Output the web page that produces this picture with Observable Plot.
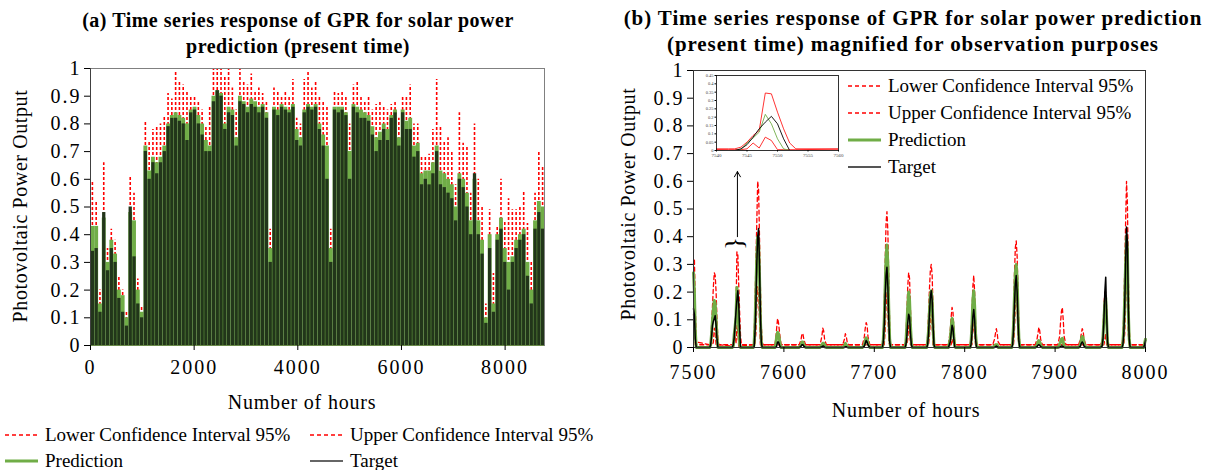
<!DOCTYPE html>
<html><head><meta charset="utf-8">
<script src="https://cdn.jsdelivr.net/npm/d3@7"></script>
<script src="https://cdn.jsdelivr.net/npm/@observablehq/plot@0.6"></script>
<style>
body{margin:0;background:#fff;}
#root{position:relative;width:1214px;height:470px;overflow:hidden;font-family:"Liberation Serif","Times New Roman",serif;color:#000;}
.abs{position:absolute;white-space:nowrap;}
.title{font-weight:bold;text-align:center;line-height:26px;}
.ylab{font-size:20px;letter-spacing:0.6px;transform:translate(-50%,-50%) rotate(-90deg);}
.xlab{font-size:20px;letter-spacing:0.8px;transform:translate(-50%,-50%);}
.leg{font-size:19px;display:flex;align-items:center;height:22px;}
.leg svg{margin-right:6px;}
svg text{font-family:"Liberation Serif","Times New Roman",serif;}
</style></head>
<body><div id="root"></div>
<script>
// ---------- Panel (a): 3-day bins over 8760 hours ----------
const aBinCount = 120;
const aBinHours = d3.range(aBinCount).map(i => i * 73 + 36.5);
const aTarget = [
.34,.35,.12,.48,.27,.35,.30,.17,.12,.07,
.50,.32,.15,.10,.70,.60,.66,.62,.66,.70,
.79,.82,.82,.81,.80,.74,.84,.85,.80,.76,
.70,.70,.88,.92,.90,.78,.84,.83,.72,.88,
.87,.84,.87,.86,.84,.86,.82,.30,.85,.83,
.86,.85,.84,.86,.74,.72,.84,.86,.85,.86,
.78,.72,.60,.30,.85,.84,.85,.83,.60,.86,
.84,.82,.82,.81,.76,.70,.74,.78,.74,.82,
.84,.72,.84,.78,.78,.68,.70,.58,.60,.58,
.62,.70,.58,.57,.55,.53,.45,.60,.57,.50,
.40,.62,.40,.33,.08,.35,.12,.38,.42,.30,
.20,.30,.35,.38,.40,.25,.15,.42,.48,.42];
const aPred = [
.43,.43,.15,.46,.30,.38,.33,.20,.18,.10,
.48,.45,.20,.12,.72,.63,.68,.66,.68,.72,
.80,.83,.84,.83,.82,.80,.85,.86,.83,.80,
.74,.72,.90,.92,.91,.80,.86,.85,.75,.90,
.88,.86,.89,.88,.86,.87,.84,.35,.86,.85,
.87,.86,.85,.87,.78,.75,.85,.87,.86,.87,
.80,.76,.72,.35,.86,.86,.86,.84,.70,.87,
.86,.85,.84,.83,.79,.75,.77,.80,.78,.83,
.85,.75,.85,.81,.82,.72,.73,.62,.63,.63,
.66,.72,.63,.62,.60,.58,.50,.62,.60,.55,
.45,.60,.45,.38,.10,.40,.15,.40,.46,.35,
.30,.32,.38,.40,.42,.30,.20,.45,.52,.50];
const aUpper = [
.59,.52,.20,.66,.35,.42,.38,.25,.20,.12,
.61,.55,.24,.14,.81,.74,.78,.79,.80,.83,
.91,.89,.99,.95,.94,.92,.90,.90,.88,.85,
.79,.86,1.0,1.0,1.0,.97,1.0,.93,.85,1.0,
.95,.94,.98,.92,.93,.91,.88,.42,.93,.92,
.90,.92,.90,.96,.82,.80,.96,.99,.93,.95,
.90,.88,.86,.42,.92,.91,.92,.90,.80,.94,
.95,.90,.88,.90,.85,.87,.88,.86,.85,.87,
.88,.82,.90,.90,.94,.80,.80,.68,.68,.69,
.78,.96,.79,.74,.75,.70,.58,.84,.73,.72,
.55,.80,.60,.50,.15,.49,.26,.43,.60,.45,
.53,.49,.49,.50,.56,.44,.30,.55,.70,.65];
const aLower = [
.28,.28,.02,.31,.15,.23,.18,.05,.03,.00,
.33,.30,.05,.00,.57,.48,.53,.51,.53,.57,
.65,.68,.69,.68,.67,.65,.70,.71,.68,.65,
.59,.57,.75,.77,.76,.65,.71,.70,.60,.75,
.73,.71,.74,.73,.71,.72,.69,.20,.71,.70,
.72,.71,.70,.72,.63,.60,.70,.72,.71,.72,
.65,.61,.57,.20,.71,.71,.71,.69,.55,.72,
.71,.70,.69,.68,.64,.60,.62,.65,.63,.68,
.70,.60,.70,.66,.67,.57,.58,.47,.48,.48,
.51,.57,.48,.47,.45,.43,.35,.47,.45,.40,
.30,.45,.30,.23,.00,.25,.02,.25,.31,.20,
.15,.17,.23,.25,.27,.15,.05,.30,.37,.35];
const aXTicks = [0,2000,4000,6000,8000];
const yTicks = [0,0.1,0.2,0.3,0.4,0.5,0.6,0.7,0.8,0.9,1];

// ---------- Panel (b): hourly values, hours 7500-8000 ----------
const bHours = [
7500,7501,7502,7503,
7518,7519,7520,7521,7522,7523,7524,7525,7526,7527,7528,
7542,7543,7544,7545,7546,7547,7548,7549,7550,7551,7552,7553,
7566,7567,7568,7569,7570,7571,7572,7573,7574,7575,7576,7577,
7590,7591,7592,7593,7594,7595,7596,7597,
7617,7619,7620,7621,7622,7624,
7640,7642,7643,7644,7645,7647,
7665,7667,7668,7669,7670,7672,
7687,7689,7690,7691,7692,7693,7695,
7709,7710,7711,7712,7713,7714,7715,7716,7717,7718,
7734,7735,7736,7737,7738,7739,7740,7741,7742,
7758,7759,7760,7761,7762,7763,7764,7765,7766,7767,
7782,7784,7785,7786,7787,7788,7789,7790,
7806,7807,7808,7809,7810,7811,7812,7813,7814,
7831,7833,7834,7835,7836,7837,7839,
7852,7853,7854,7855,7856,7857,7858,7859,7860,7861,
7878,7880,7881,7882,7883,7884,7886,
7903,7905,7906,7907,7908,7909,7910,7912,
7926,7928,7929,7930,7931,7932,7934,
7950,7952,7953,7954,7955,7956,7957,7958,7959,
7974,7975,7976,7977,7978,7979,7980,7981,7982,7983,
7998,7999,8000];
const bTarget = [
.14,.12,.03,0,
0,.01,.04,.08,.095,.105,.115,.08,.03,0,0,
0,0,.01,.035,.08,.13,.17,.205,.16,.07,0,0,
0,0,.05,.15,.30,.40,.43,.30,.12,.02,0,0,
0,0,.005,.02,.02,.01,0,0,
0,.005,.01,.01,.005,0,
0,.003,.005,.005,0,0,
0,0,.003,.003,0,0,
0,.005,.015,.025,.02,.01,0,
0,.02,.08,.18,.26,.29,.22,.10,.02,0,
0,.01,.04,.09,.12,.11,.05,.01,0,
0,.01,.05,.12,.18,.205,.17,.08,.01,0,
0,.02,.05,.08,.07,.03,0,0,
0,.01,.05,.11,.137,.10,.03,0,0,
0,0,.003,.005,.003,0,0,
0,.01,.06,.15,.23,.26,.20,.09,.02,0,
0,.003,.008,.01,.008,.003,0,
0,0,.003,.005,.005,.003,0,0,
0,.005,.015,.02,.015,.005,0,
0,.005,.03,.10,.20,.254,.12,.02,0,
0,.01,.05,.15,.30,.435,.38,.15,.03,0,
0,.01,.025];
const bPred = [
.27,.20,.06,0,
0,.01,.05,.10,.14,.17,.16,.10,.04,0,0,
0,0,.005,.045,.075,.11,.217,.16,.07,.01,0,0,
0,.01,.08,.20,.33,.40,.38,.26,.10,.02,0,0,
0,.01,.04,.055,.05,.03,.01,0,
0,.01,.02,.02,.01,0,
0,.01,.015,.015,.01,0,
0,.005,.015,.01,.005,0,
0,.01,.025,.035,.03,.015,0,
0,.03,.10,.22,.33,.37,.30,.14,.03,0,
0,.02,.08,.15,.20,.17,.08,.02,0,
0,.02,.06,.13,.19,.205,.17,.07,.01,0,
0,.03,.07,.105,.09,.04,.005,0,
0,.02,.08,.17,.205,.15,.05,.01,0,
0,.005,.01,.01,.01,0,0,
0,.02,.08,.18,.27,.30,.25,.12,.03,0,
0,.01,.02,.025,.02,.01,0,
0,.01,.02,.03,.033,.02,.005,0,
0,.01,.03,.04,.035,.015,0,
0,.01,.04,.10,.16,.18,.10,.02,0,
0,.02,.07,.18,.30,.40,.35,.13,.03,0,
0,.015,.03];
const bUpper = [
.30,.32,.15,.02,
.01,.02,.08,.15,.22,.27,.26,.20,.10,.03,.01,
.01,.01,.02,.05,.09,.12,.345,.34,.23,.13,.045,.01,
.01,.03,.15,.30,.45,.60,.57,.40,.22,.08,.02,.01,
.01,.03,.07,.105,.09,.06,.03,.01,
.01,.03,.05,.05,.03,.01,
.01,.04,.07,.06,.03,.01,
.01,.03,.05,.04,.02,.01,
.01,.04,.07,.09,.08,.04,.01,
.01,.05,.15,.30,.45,.49,.42,.25,.08,.01,
.01,.04,.12,.22,.27,.25,.14,.04,.01,
.01,.04,.12,.21,.28,.30,.26,.14,.03,.01,
.01,.06,.11,.145,.13,.07,.02,.01,
.01,.04,.12,.22,.26,.20,.09,.02,.01,
.01,.03,.05,.068,.05,.02,.01,
.01,.04,.12,.26,.36,.385,.33,.20,.06,.01,
.01,.03,.05,.073,.06,.03,.01,
.01,.04,.09,.13,.145,.10,.04,.01,
.01,.03,.05,.068,.06,.03,.01,
.01,.02,.06,.15,.20,.20,.14,.04,.01,
.01,.04,.12,.28,.45,.60,.52,.26,.07,.01,
.01,.02,.035];
const bLower = [
.12,.08,.01,.01,
.01,.01,.01,.01,.02,.07,.06,.01,.01,.01,.01,
.005,.005,.005,.01,.045,.015,.08,.06,.005,.005,.005,.005,
.01,.01,.01,.05,.15,.22,.20,.10,.01,.01,.01,.01,
.01,.01,.01,.01,.01,.01,.01,.01,
.01,.01,.01,.01,.01,.01,
.01,.01,.01,.01,.01,.01,
.01,.01,.01,.01,.01,.01,
.01,.01,.01,.01,.01,.01,.01,
.01,.01,.01,.06,.15,.20,.13,.02,.01,.01,
.01,.01,.01,.03,.08,.06,.01,.01,.01,
.01,.01,.01,.04,.10,.12,.08,.01,.01,.01,
.01,.01,.01,.03,.02,.01,.01,.01,
.01,.01,.01,.06,.10,.05,.01,.01,.01,
.01,.01,.01,.01,.01,.01,.01,
.01,.01,.01,.06,.15,.20,.15,.04,.01,.01,
.01,.01,.01,.01,.01,.01,.01,
.01,.01,.01,.01,.01,.01,.01,.01,
.01,.01,.01,.01,.01,.01,.01,
.01,.01,.01,.01,.03,.05,.01,.01,.01,
.01,.01,.01,.05,.15,.26,.20,.05,.01,.01,
.01,.01,.01];
const bXTicks = [7500,7600,7700,7800,7900,8000];
const insetXTicks = [7540,7545,7550,7555,7560];
const insetYTicks = [0,0.05,0.1,0.15,0.2,0.25,0.3,0.35,0.4,0.45];
const arrowB = [{x:7548.6, y1:0.40, y2:0.635}];
const braceB = [{x:7548.3, y:0.372}];

const titleA = ["(a) Time series response of GPR for solar power", "prediction (present time)"];
const titleB = ["(b) Time series response of GPR for solar power prediction", "(present time) magnified for observation purposes"];
const yLabel = "Photovoltaic Power Output";
const xLabel = "Number of hours";
const seriesNames = ["Lower Confidence Interval 95%", "Upper Confidence Interval 95%", "Prediction", "Target"];

// ---------- colours ----------
const RED = "#ff0000", GREEN = "#70ad47", DARK = "#22361a";

const aData = aBinHours.map((h,i)=>({hour:h, target:aTarget[i], pred:aPred[i], upper:aUpper[i], lower:aLower[i]}));
const bData = bHours.map((h,i)=>({hour:h, target:bTarget[i], pred:bPred[i], upper:bUpper[i], lower:bLower[i]}));

const root = document.getElementById("root");
function place(el, left, top){ el.style.position="absolute"; el.style.left=left+"px"; el.style.top=top+"px"; root.appendChild(el); return el; }
function div(cls, html, left, top, extra){ const d=document.createElement("div"); d.className="abs "+cls; d.innerHTML=html; if(extra) Object.assign(d.style, extra); return place(d,left,top); }

const axisStyle = "font-family:'Liberation Serif','Times New Roman',serif;font-size:20px;letter-spacing:2px;overflow:visible;background:transparent;";

// Panel A
const plotA = Plot.plot({
  width:600, height:400, marginLeft:90, marginRight:56, marginTop:68, marginBottom:55,
  x:{domain:[0,8760], label:null}, y:{domain:[0,1], label:null},
  style: axisStyle,
  marks:[
    Plot.ruleX(aData,{x:"hour", y1:0, y2:"lower", stroke:RED, strokeWidth:1.6, strokeDasharray:"3,2"}),
    Plot.ruleX(aData,{x:"hour", y1:0, y2:"upper", stroke:RED, strokeWidth:1.6, strokeDasharray:"3,2"}),
    Plot.ruleX(aData,{x:"hour", y1:0, y2:"pred", stroke:GREEN, strokeWidth:3.9}),
    Plot.ruleX(aData,{x:"hour", y1:0, y2:"target", stroke:DARK, strokeWidth:3.3}),
    Plot.frame({stroke:"#808080"}),
    Plot.ruleX([0],{stroke:"#404040"}),
    Plot.ruleY([0],{stroke:"#6a8a4a"}),
    Plot.axisX({ticks:aXTicks, tickSize:5, tickPadding:9, fontSize:20, tickFormat:d=>String(d)}),
    Plot.axisY({ticks:yTicks, tickSize:6, tickPadding:3, fontSize:20, tickFormat:d=>String(d)})
  ]
});
place(plotA, 0, 0);

// Panel B
const plotB = Plot.plot({
  width:614, height:400, marginLeft:93, marginRight:69, marginTop:70, marginBottom:53,
  x:{domain:[7500,8000], label:null}, y:{domain:[0,1], label:null},
  style: axisStyle,
  marks:[
    Plot.line(bData,{x:"hour", y:"lower", stroke:RED, strokeWidth:1.3, strokeDasharray:"4,3"}),
    Plot.line(bData,{x:"hour", y:"upper", stroke:RED, strokeWidth:1.3, strokeDasharray:"4,3"}),
    Plot.line(bData,{x:"hour", y:"pred", stroke:GREEN, strokeWidth:3}),
    Plot.line(bData,{x:"hour", y:"target", stroke:"#000", strokeWidth:1.5}),
    Plot.arrow(arrowB,{x1:"x", y1:"y1", x2:"x", y2:"y2", stroke:"#000", strokeWidth:1, headLength:9}),
    Plot.text(braceB,{x:"x", y:"y", text:d=>"{", rotate:90, fontSize:26, fill:"#000", fontWeight:"normal"}),
    Plot.frame({stroke:"#333"}),
    Plot.axisX({ticks:bXTicks, tickSize:5, tickPadding:12, fontSize:20, tickFormat:d=>String(d)}),
    Plot.axisY({ticks:yTicks, tickSize:6, tickPadding:3, fontSize:20, tickFormat:d=>String(d)})
  ]
});
place(plotB, 600, 0);

// Inset (magnified day)
const inset = Plot.plot({
  width:160, height:95, marginLeft:26, marginRight:12, marginTop:7, marginBottom:13,
  x:{domain:[7540,7560], label:null}, y:{domain:[0,0.45], label:null},
  style:"font-family:'Liberation Serif',serif;font-size:5px;overflow:visible;background:transparent;",
  marks:[
    Plot.frame({fill:"#fff"}),
    Plot.line(bData,{x:"hour", y:"lower", stroke:RED, strokeWidth:0.8, clip:true}),
    Plot.line(bData,{x:"hour", y:"upper", stroke:RED, strokeWidth:0.8, clip:true}),
    Plot.line(bData,{x:"hour", y:"pred", stroke:GREEN, strokeWidth:0.9, clip:true}),
    Plot.line(bData,{x:"hour", y:"target", stroke:"#000", strokeWidth:0.9, clip:true}),
    Plot.frame({stroke:"#000", strokeWidth:0.8}),
    Plot.axisX({ticks:insetXTicks, tickSize:1.5, tickPadding:1.5, fontSize:5, fill:"#444", tickFormat:d=>String(d)}),
    Plot.axisY({ticks:insetYTicks, tickSize:1.5, tickPadding:1.5, fontSize:4.5, fill:"#444", tickFormat:d=>String(d)})
  ]
});
place(inset, 690, 68);

// Titles
div("title", titleA.join("<br>"), 0, 7, {width:"596px", fontSize:"20px", letterSpacing:"0.5px"});
div("title", titleB.join("<br>"), 613, 5, {width:"600px", fontSize:"21px", letterSpacing:"0.9px"});

// Axis labels
div("ylab", yLabel, 20, 206);
div("ylab", yLabel, 628, 204);
div("xlab", xLabel, 302, 402);
div("xlab", xLabel, 906, 410);

// Legends
function swatch(kind){
  const s = {lower:`<line x1="0" y1="6" x2="33" y2="6" stroke="${RED}" stroke-width="1.3" stroke-dasharray="4,3"/>`,
             upper:`<line x1="0" y1="6" x2="33" y2="6" stroke="${RED}" stroke-width="1.3" stroke-dasharray="4,3"/>`,
             pred:`<line x1="0" y1="6" x2="33" y2="6" stroke="${GREEN}" stroke-width="3"/>`,
             target:`<line x1="0" y1="6" x2="33" y2="6" stroke="#666" stroke-width="2"/>`}[kind];
  return `<svg width="34" height="12">${s}</svg>`;
}
const kinds = ["lower","upper","pred","target"];
// panel a legend (below)
div("leg", swatch("lower")+seriesNames[0], 5, 424);
div("leg", swatch("upper")+seriesNames[1], 310, 424);
div("leg", swatch("pred")+seriesNames[2], 5, 450);
div("leg", swatch("target")+seriesNames[3], 310, 450);
// panel b legend (inside)
kinds.forEach((k,i)=>{
  const tops=[75,102,129,156];
  const sw = k==="target" ? swatch("target").replace('stroke="#666"','stroke="#555"') : swatch(k);
  div("leg", sw+seriesNames[i], 848, tops[i]);
});
</script></body></html>
